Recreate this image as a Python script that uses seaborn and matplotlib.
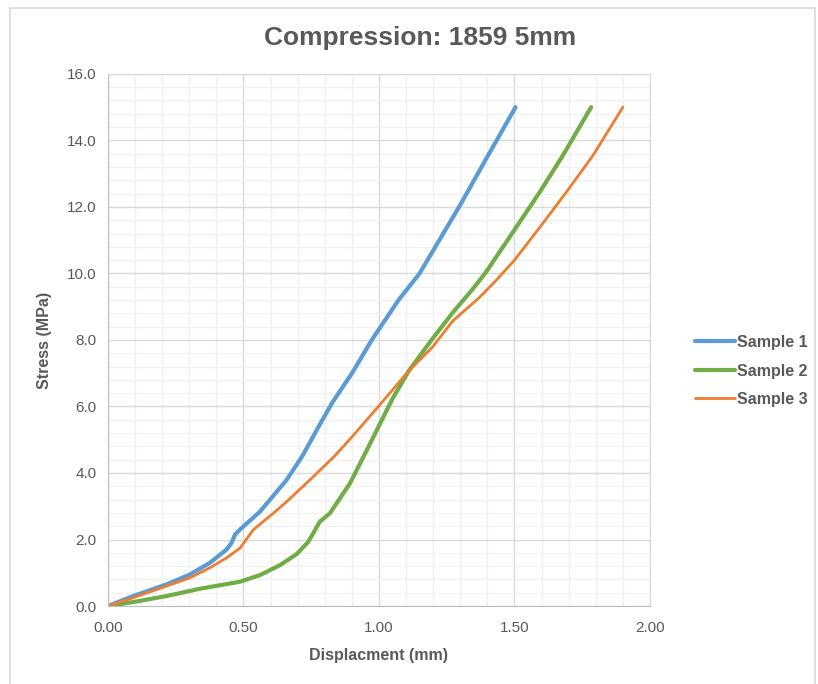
"""
Compression test: stress vs displacement for three 1859 5mm samples,
styled after the original Excel chart.
"""
import numpy as np
import pandas as pd
import matplotlib
matplotlib.use("Agg")
import matplotlib.pyplot as plt
from matplotlib.ticker import MultipleLocator, FormatStrFormatter
from matplotlib.patches import Rectangle
import seaborn as sns

# values
sample1_x = [0, 0.093, 0.216, 0.303, 0.376, 0.438, 0.456, 0.469, 0.487, 0.561, 0.659,
             0.718, 0.779, 0.828, 0.902, 0.975, 1.074, 1.149, 1.297, 1.395, 1.504]
sample1_y = [0, 0.30, 0.65, 0.95, 1.30, 1.70, 1.90, 2.15, 2.30, 2.84, 3.79,
             4.52, 5.42, 6.12, 7.02, 8.02, 9.22, 9.99, 12.02, 13.44, 15.0]

sample2_x = [0, 0.093, 0.216, 0.340, 0.487, 0.561, 0.635, 0.696, 0.739, 0.782, 0.819, 0.893,
             0.951, 1.000, 1.049, 1.110, 1.196, 1.272, 1.346, 1.395, 1.500, 1.592, 1.678, 1.783]
sample2_y = [0, 0.12, 0.30, 0.52, 0.73, 0.93, 1.23, 1.56, 1.93, 2.54, 2.79, 3.69,
             4.62, 5.42, 6.22, 7.07, 8.02, 8.82, 9.53, 10.04, 11.31, 12.43, 13.54, 15.0]

sample3_x = [0, 0.093, 0.216, 0.303, 0.376, 0.438, 0.487, 0.536, 0.610, 0.657, 0.745, 0.835,
             0.902, 1.000, 1.110, 1.199, 1.272, 1.371, 1.432, 1.500, 1.605, 1.690, 1.789, 1.900]
sample3_y = [0, 0.25, 0.60, 0.85, 1.15, 1.45, 1.74, 2.29, 2.79, 3.12, 3.79, 4.50,
             5.10, 6.02, 7.07, 7.80, 8.57, 9.28, 9.79, 10.40, 11.51, 12.43, 13.54, 15.0]

series_names = ["Sample 1", "Sample 2", "Sample 3"]
series_colors = ["#5B9BD5", "#70AD47", "#ED7D31"]
series_widths = [3.0, 3.0, 2.0]

TEXT = "#595959"

sns.set_style("white")
plt.rcParams["font.family"] = ["Liberation Sans", "DejaVu Sans"]

fig = plt.figure(figsize=(8.18, 6.84), dpi=100)
ax = fig.add_axes([0.132, 0.114, 0.6626, 0.778])

data = [(sample1_x, sample1_y), (sample2_x, sample2_y), (sample3_x, sample3_y)]
for (xs, ys), name, color, lw in zip(data, series_names, series_colors, series_widths):
    df = pd.DataFrame({"x": xs, "y": ys})
    sns.lineplot(data=df, x="x", y="y", ax=ax, color=color, linewidth=lw,
                 label=name, sort=False, estimator=None, solid_capstyle="round")

ax.set_xlim(0, 2.0)
ax.set_ylim(0, 16.0)
ax.xaxis.set_major_locator(MultipleLocator(0.5))
ax.xaxis.set_minor_locator(MultipleLocator(0.1))
ax.yaxis.set_major_locator(MultipleLocator(2.0))
ax.yaxis.set_minor_locator(MultipleLocator(0.4))
ax.xaxis.set_major_formatter(FormatStrFormatter("%.2f"))
ax.yaxis.set_major_formatter(FormatStrFormatter("%.1f"))

ax.grid(which="major", color="#d9d9d9", linewidth=1.0)
ax.grid(which="minor", color="#f0f0f0", linewidth=1.0)
ax.set_axisbelow(True)

ax.tick_params(which="major", direction="out", length=5, width=1, color="#bfbfbf",
               labelsize=11, labelcolor=TEXT, pad=3)
ax.tick_params(which="minor", length=0)
ax.tick_params(axis="x", pad=6)

for side in ["left", "bottom"]:
    ax.spines[side].set_color("#bfbfbf")
for side in ["top", "right"]:
    ax.spines[side].set_color("#d9d9d9")

ax.set_xlabel("Displacment (mm)", fontsize=11.5, fontweight="bold", color=TEXT, labelpad=9)
ax.set_ylabel("Stress (MPa)", fontsize=11.5, fontweight="bold", color=TEXT, labelpad=11)

fig.text(0.513, 0.944, "Compression: 1859 5mm", ha="center", va="center",
         fontsize=19, fontweight="bold", color=TEXT)

leg = ax.legend(loc="center left", bbox_to_anchor=(0.8496, 0.4576),
                bbox_transform=fig.transFigure, frameon=False, fontsize=11.5,
                handlelength=2.5, handletextpad=0.12, labelspacing=0.85,
                borderpad=0, borderaxespad=0)
for txt in leg.get_texts():
    txt.set_color(TEXT)
    txt.set_fontweight("bold")

# light chart-area frame like the Excel export
fig.patches.append(Rectangle((0.0122, -0.01), 0.984, 0.998, transform=fig.transFigure,
                             fill=False, edgecolor="#d9d9d9", linewidth=1.2))

fig.savefig("out.png", dpi=100)
